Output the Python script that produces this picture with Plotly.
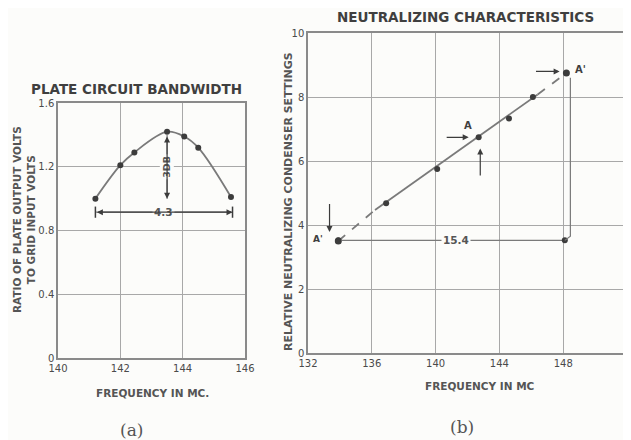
import plotly.graph_objects as go

# ---------------- data ----------------
# (a) plate circuit bandwidth
freq_a = [141.2, 142.0, 142.45, 143.5, 144.05, 144.5, 145.55]
ratio_a = [1.00, 1.21, 1.29, 1.42, 1.39, 1.32, 1.01]
xticks_a = [140, 142, 144, 146]
yticks_a = [0, 0.4, 0.8, 1.2, 1.6]
yticklabels_a = ["0", "0.4", "0.8", "1.2", "1.6"]
bw_x = [141.2, 145.6]          # 4.3 MC bandwidth marker
bw_y = [0.915, 0.915]
db_x = [143.5, 143.5]          # 3 dB drop marker
db_y = [1.40, 1.0]

# (b) neutralizing characteristics
freq_b = [136.9, 140.1, 142.7, 144.6, 146.1]
setting_b = [4.68, 5.75, 6.74, 7.33, 8.0]
fit_x = [136.2, 146.4]
fit_y = [4.47, 8.08]
dash_lo_x = [133.9, 136.2]
dash_lo_y = [3.50, 4.47]
dash_hi_x = [146.4, 148.2]
dash_hi_y = [8.08, 8.75]
aprime_x = [133.9, 148.2]
aprime_y = [3.50, 8.75]
span_x = [133.9, 148.1]        # 15.4 MC span
span_y = [3.52, 3.52]
drop_x = [148.45, 148.45, 148.1]
drop_y = [8.6, 3.65, 3.52]
xticks_b = [132, 136, 140, 144, 148, 152]
xticklabels_b = ["132", "136", "140", "144", "148", ""]
yticks_b = [0, 2, 4, 6, 8, 10]

# the page body has an 8px margin, so the figure is drawn 8px in from the corner
OFF = 8
W, H = 631 - OFF, 440 - OFF
def px(x):
    return (x - OFF) / W
def py(y):
    return 1 - (y - OFF) / H

LINE = "#7a7a7a"
DOT = "#3c3c3c"
TXT = "#3f3f3f"
FONT = "DejaVu Sans"
BG = "#fcfcfa"

fig = go.Figure()

# ---- chart (a) ----
fig.add_trace(go.Scatter(x=freq_a, y=ratio_a, mode="lines+markers",
                         line=dict(color=LINE, width=1.8, shape="spline", smoothing=1.0),
                         marker=dict(color=DOT, size=6),
                         xaxis="x", yaxis="y", showlegend=False))
fig.add_trace(go.Scatter(x=bw_x, y=bw_y, mode="lines+markers",
                         line=dict(color=LINE, width=1.2),
                         marker=dict(symbol="line-ns-open", size=8, color=DOT, line=dict(width=1.5, color=DOT)),
                         xaxis="x", yaxis="y", showlegend=False))
fig.add_trace(go.Scatter(x=db_x, y=db_y, mode="lines",
                         line=dict(color=LINE, width=1.2),
                         xaxis="x", yaxis="y", showlegend=False))

# ---- chart (b) ----
fig.add_trace(go.Scatter(x=fit_x, y=fit_y, mode="lines",
                         line=dict(color=LINE, width=1.8),
                         xaxis="x2", yaxis="y2", showlegend=False))
fig.add_trace(go.Scatter(x=dash_lo_x, y=dash_lo_y, mode="lines",
                         line=dict(color=LINE, width=1.8, dash="dash"),
                         xaxis="x2", yaxis="y2", showlegend=False))
fig.add_trace(go.Scatter(x=dash_hi_x, y=dash_hi_y, mode="lines",
                         line=dict(color=LINE, width=1.8, dash="dash"),
                         xaxis="x2", yaxis="y2", showlegend=False))
fig.add_trace(go.Scatter(x=freq_b, y=setting_b, mode="markers",
                         marker=dict(color=DOT, size=6),
                         xaxis="x2", yaxis="y2", showlegend=False))
fig.add_trace(go.Scatter(x=aprime_x, y=aprime_y, mode="markers",
                         marker=dict(color=DOT, size=7),
                         xaxis="x2", yaxis="y2", showlegend=False))
fig.add_trace(go.Scatter(x=span_x, y=span_y, mode="lines+markers",
                         line=dict(color=LINE, width=1.2),
                         marker=dict(color=DOT, size=6),
                         xaxis="x2", yaxis="y2", showlegend=False))
fig.add_trace(go.Scatter(x=drop_x, y=drop_y, mode="lines",
                         line=dict(color=LINE, width=1.2),
                         xaxis="x2", yaxis="y2", showlegend=False))

axis_common = dict(showline=True, mirror=True, linecolor="#8a8a8a", linewidth=1.5,
                   showgrid=True, gridcolor="#a8a8a8", gridwidth=1, zeroline=False,
                   ticks="", automargin=False,
                   tickfont=dict(family=FONT, size=10, color="#4a4a4a"))

fig.update_layout(
    width=W, height=H,
    margin=dict(l=0, r=0, t=0, b=0, pad=0, autoexpand=False),
    paper_bgcolor=BG, plot_bgcolor=BG,
    xaxis=dict(domain=[px(58), px(245)], range=[140, 146], tickvals=xticks_a,
               anchor="y", **axis_common),
    yaxis=dict(domain=[py(358), py(103)], range=[0, 1.6], tickvals=yticks_a,
               ticktext=yticklabels_a, anchor="x", **axis_common),
    xaxis2=dict(domain=[px(308), px(627)], range=[132, 152], tickvals=xticks_b,
                ticktext=xticklabels_b, anchor="y2", **axis_common),
    yaxis2=dict(domain=[py(353), py(33)], range=[0, 10], tickvals=yticks_b,
                anchor="x2", **axis_common),
)

ann = []
def text(x, y, s, size=10, angle=0, xref="paper", yref="paper", family=FONT, color=TXT,
         bg=None, bold=False, **kw):
    d = dict(x=x, y=y, xref=xref, yref=yref, text=s, showarrow=False, textangle=angle,
             xanchor="center", yanchor="middle",
             font=dict(family=family, size=size, color=color, weight=700 if bold else 400))
    if bg:
        d["bgcolor"] = bg
    d.update(kw)
    ann.append(d)

# titles
text(px(136), py(89), "PLATE CIRCUIT BANDWIDTH", size=13.5, bold=True)
text(px(465), py(17), "NEUTRALIZING CHARACTERISTICS", size=13.5, bold=True)
text(px(152), py(393), "FREQUENCY IN MC.", size=10.5, bold=True, color="#555")
text(px(480), py(386), "FREQUENCY IN MC", size=10.5, bold=True, color="#555")
text(px(24), py(220), "RATIO OF PLATE OUTPUT VOLTS<br>TO GRID INPUT VOLTS", size=10.5,
     angle=-90, bold=True, color="#555")
text(px(288), py(202), "RELATIVE NEUTRALIZING CONDENSER SETTINGS", size=11,
     angle=-90, bold=True, color="#555")
text(px(131), py(430), "(a)", size=17, family="DejaVu Serif", color="#555")
text(px(462), py(427), "(b)", size=17, family="DejaVu Serif", color="#555")

# chart (a) labels
text(143.4, 0.915, "4.3", size=10.5, xref="x", yref="y", bg=BG, bold=True, color="#555")
text(143.5, 1.2, "3DB", size=9.5, angle=-90, xref="x", yref="y", bg=BG, bold=True, color="#555")
ann.append(dict(x=bw_x[1], y=bw_y[1], ax=bw_x[0], ay=bw_y[0], xref="x", yref="y",
                axref="x", ayref="y", text="", showarrow=True, arrowside="end+start",
                arrowhead=2, arrowsize=1, arrowwidth=1.2, arrowcolor=DOT))
ann.append(dict(x=db_x[1], y=db_y[1], ax=db_x[0], ay=db_y[0], xref="x", yref="y",
                axref="x", ayref="y", text="", showarrow=True, arrowside="end+start",
                arrowhead=2, arrowsize=1, arrowwidth=1.2, arrowcolor=DOT))

# chart (b) labels
text(141.3, 3.52, "15.4", size=10.5, xref="x2", yref="y2", bg=BG, bold=True, color="#555")
text(142.0, 7.12, "A", size=10, xref="x2", yref="y2", bold=True)
text(149.1, 8.85, "A'", size=10, xref="x2", yref="y2", bold=True)
text(132.65, 3.55, "A'", size=9, xref="x2", yref="y2", bold=True)

def arrow(x, y, ax_, ay_):
    ann.append(dict(x=x, y=y, ax=ax_, ay=ay_, xref="x2", yref="y2", axref="x2", ayref="y2",
                    text="", showarrow=True, arrowhead=2, arrowsize=1, arrowwidth=1.2,
                    arrowcolor=DOT, standoff=2))

arrow(147.9, 8.8, 146.2, 8.8)      # to A' (upper)
arrow(142.2, 6.74, 140.6, 6.74)    # to A (horizontal)
arrow(142.8, 6.45, 142.8, 5.5)     # to A (vertical)
arrow(133.35, 3.72, 133.35, 4.7)   # to A' (lower)

fig.update_layout(annotations=ann)
fig.write_html("out.html")
